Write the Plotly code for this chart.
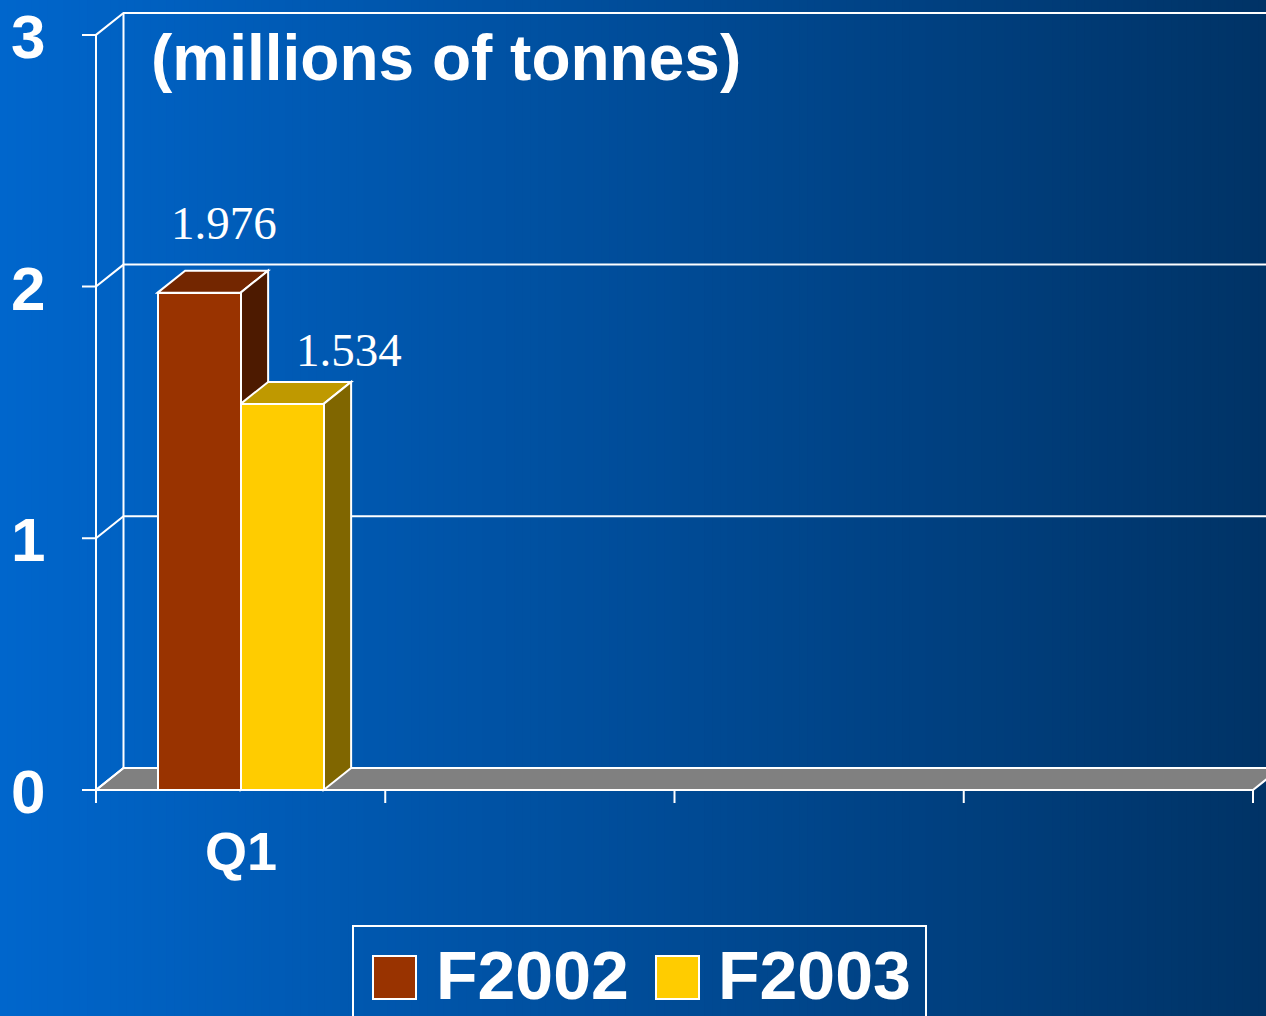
import plotly.graph_objects as go

# data
quarters = ["Q1", "Q2", "Q3", "Q4"]
series_names = ["F2002", "F2003"]
f2002_values = [1.976, None, None, None]
f2003_values = [1.534, None, None, None]
y_tick_values = [0, 1, 2, 3]
title_text = "(millions of tonnes)"

# colours: front, top, side
COLORS = {
    "F2002": ("#993300", "#732600", "#4D1A00"),
    "F2003": ("#FFCC00", "#BF9900", "#806600"),
}
FLOOR_COLOR = "#808080"
BG_LEFT = (0, 102, 204)
BG_RIGHT = (0, 51, 102)
LINE = "white"

# page geometry (pixels)
W, H = 1266, 1016
X0_PX, XCAT_PX = 96, 289.25      # front axis origin and width of one quarter
Y0_PX, YUNIT_PX = 790, 251.7     # zero line and height of one unit
DEPTH_PX = (27.5, 22)            # 3d depth offset

DX = DEPTH_PX[0] / XCAT_PX
DY = DEPTH_PX[1] / YUNIT_PX
X_MIN = -X0_PX / XCAT_PX
X_MAX = (W - X0_PX) / XCAT_PX
Y_MIN = -(H - Y0_PX) / YUNIT_PX
Y_MAX = Y0_PX / YUNIT_PX
TICK_X = 14 / XCAT_PX
TICK_Y = 13 / YUNIT_PX
BAR_W = 83 / XCAT_PX
LABEL_SHIFT = [(25, 70), (67, 54)]


def px(x):
    return x / W


def py(y):
    return 1 - y / H


def poly(points):
    return "M " + " L ".join(f"{x},{y}" for x, y in points) + " Z"


def line_path(points):
    return "M " + " L ".join(f"{x},{y}" for x, y in points)


fig = go.Figure()
shapes = []

# background gradient in thin strips
n_strips = 160
for i in range(n_strips):
    t = i / (n_strips - 1)
    c = tuple(round(a + (b - a) * t) for a, b in zip(BG_LEFT, BG_RIGHT))
    shapes.append(dict(
        type="rect", xref="paper", yref="paper",
        x0=i / n_strips, x1=(i + 1) / n_strips + 0.002, y0=0, y1=1,
        fillcolor=f"rgb{c}", line=dict(width=0), layer="below",
    ))

# floor
n_cat = len(quarters)
shapes.append(dict(
    type="path", xref="x", yref="y", layer="below",
    path=poly([(0, 0), (n_cat, 0), (n_cat + DX, DY), (DX, DY)]),
    fillcolor=FLOOR_COLOR, line=dict(color=LINE, width=2),
))

# walls and gridlines
for v in y_tick_values:
    shapes.append(dict(
        type="path", xref="x", yref="y", layer="below",
        path=line_path([(-TICK_X, v), (0, v), (DX, v + DY), (X_MAX + 0.1, v + DY)]),
        line=dict(color=LINE, width=2),
    ))
shapes.append(dict(type="line", xref="x", yref="y", layer="below",
                   x0=0, x1=0, y0=-TICK_Y, y1=max(y_tick_values),
                   line=dict(color=LINE, width=2)))
shapes.append(dict(type="line", xref="x", yref="y", layer="below",
                   x0=DX, x1=DX, y0=DY, y1=max(y_tick_values) + DY,
                   line=dict(color=LINE, width=2)))
# category axis
shapes.append(dict(type="line", xref="x", yref="y", layer="below",
                   x0=-TICK_X, x1=n_cat, y0=0, y1=0,
                   line=dict(color=LINE, width=2)))
for i in range(n_cat + 1):
    shapes.append(dict(type="line", xref="x", yref="y", layer="below",
                       x0=i, x1=i, y0=0, y1=-TICK_Y,
                       line=dict(color=LINE, width=2)))

# bars: front faces as bar traces, top and side faces as shapes
annotations = []
for s, (name, values) in enumerate(zip(series_names, [f2002_values, f2003_values])):
    front, top, side = COLORS[name]
    xs, ys = [], []
    for i, v in enumerate(values):
        if v is None:
            continue
        xc = i + 0.5
        left = xc + (s - 1) * BAR_W
        right = left + BAR_W
        xs.append(xc)
        ys.append(v)
        shapes.append(dict(
            type="path", xref="x", yref="y", layer="below",
            path=poly([(left, v), (left + DX, v + DY), (right + DX, v + DY), (right, v)]),
            fillcolor=top, line=dict(color=LINE, width=2),
        ))
        shapes.append(dict(
            type="path", xref="x", yref="y", layer="below",
            path=poly([(right, 0), (right, v), (right + DX, v + DY), (right + DX, DY)]),
            fillcolor=side, line=dict(color=LINE, width=2),
        ))
        annotations.append(dict(
            x=left + BAR_W / 2, y=v, xref="x", yref="y",
            xshift=LABEL_SHIFT[s][0], yshift=LABEL_SHIFT[s][1],
            text=f"{v:.3f}", showarrow=False, xanchor="center", yanchor="middle",
            font=dict(family="Liberation Serif, Times New Roman, serif", size=47, color="white"),
        ))
    fig.add_trace(go.Bar(
        x=xs, y=ys, name=name, width=BAR_W, offset=(s - 1) * BAR_W,
        marker=dict(color=front, line=dict(color=LINE, width=2)),
        showlegend=False, hoverinfo="skip",
    ))

SANS = "Liberation Sans, Arial, sans-serif"

# value axis labels
for v in y_tick_values:
    annotations.append(dict(
        x=px(47), y=v, xref="paper", yref="y", text=f"<b>{v}</b>",
        showarrow=False, xanchor="right", yanchor="middle", height=54,
        yshift=-1,
        font=dict(family=SANS, size=62, color="white"),
    ))

# category labels (only Q1 has data)
annotations.append(dict(
    x=0.5, y=py(851), xref="x", yref="paper", text=f"<b>{quarters[0]}</b>",
    showarrow=False, xanchor="center", yanchor="middle",
    font=dict(family=SANS, size=54, color="white"),
))

# unit title
annotations.append(dict(
    x=px(149), y=py(58), xref="paper", yref="paper", text=f"<b>{title_text}</b>",
    showarrow=False, xanchor="left", yanchor="middle",
    font=dict(family=SANS, size=64, color="white"),
))

# legend box
shapes.append(dict(type="rect", xref="paper", yref="paper",
                   x0=px(353), x1=px(926), y0=py(926), y1=py(1040),
                   line=dict(color=LINE, width=2), fillcolor="rgba(0,0,0,0)"))
legend_x = [(373, 437), (656, 719)]
for (sq_x, txt_x), name in zip(legend_x, series_names):
    shapes.append(dict(type="rect", xref="paper", yref="paper",
                       x0=px(sq_x), x1=px(sq_x + 43), y0=py(999), y1=py(956),
                       fillcolor=COLORS[name][0], line=dict(color=LINE, width=2)))
    annotations.append(dict(
        x=px(txt_x - 3), y=py(975), xref="paper", yref="paper", text=f"<b>{name}</b>",
        showarrow=False, xanchor="left", yanchor="middle",
        font=dict(family=SANS, size=68, color="white"),
    ))

fig.update_layout(
    width=W, height=H,
    margin=dict(l=0, r=0, t=0, b=0),
    paper_bgcolor="#004C99", plot_bgcolor="rgba(0,0,0,0)",
    barmode="overlay", bargap=0,
    xaxis=dict(range=[X_MIN, X_MAX], visible=False, fixedrange=True),
    yaxis=dict(range=[Y_MIN, Y_MAX], visible=False, fixedrange=True),
    shapes=shapes, annotations=annotations,
    showlegend=False,
)

# drop the default page margin so the figure fills the window exactly
fig.write_html(
    "out.html",
    config={"displayModeBar": False},
    post_script="document.body.style.margin = '0';",
)
